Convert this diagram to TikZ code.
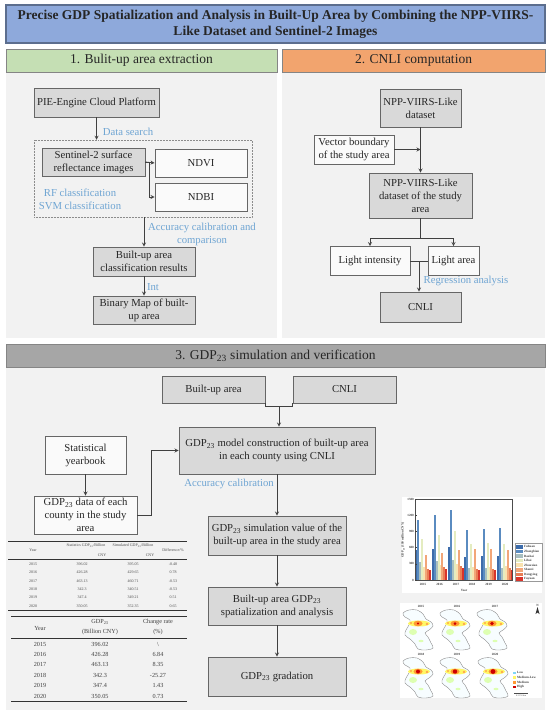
\documentclass[tikz,border=0pt]{standalone}
\usepackage{fontspec}
\setmainfont{Liberation Serif}
\usetikzlibrary{calc}
\definecolor{titleblue}{HTML}{8EA9DB}
\definecolor{headgreen}{HTML}{C5DFB4}
\definecolor{headorange}{HTML}{F2A46E}
\definecolor{headgray}{HTML}{A6A6A6}
\definecolor{panelgray}{HTML}{F2F2F2}
\definecolor{boxgray}{HTML}{D9D9D9}
\definecolor{edgegray}{HTML}{666666}
\definecolor{notecolor}{HTML}{6FA5D3}
\definecolor{barcolor1}{HTML}{3D6CAB}
\definecolor{barcolor2}{HTML}{5A8BC0}
\definecolor{barcolor3}{HTML}{A9BFC0}
\definecolor{barcolor4}{HTML}{E4ECC0}
\definecolor{barcolor5}{HTML}{F8E2B0}
\definecolor{barcolor6}{HTML}{F2A678}
\definecolor{barcolor7}{HTML}{E87C55}
\definecolor{barcolor8}{HTML}{D9342B}
\newcommand{\gdpsub}{GDP\textsubscript{23}}
\tikzset{
	graybox/.style={draw=edgegray,line width=0.9pt,fill=boxgray,inner sep=0pt,align=center,text=black!85,font=\fontsize{10.7}{13}\selectfont},
	whitebox/.style={graybox,fill=white!60!panelgray},
	headbox/.style={draw=edgegray!80,line width=0.9pt,inner sep=0pt,align=center,text=black!85,font=\fontsize{13.5}{16}\selectfont},
	notetext/.style={inner sep=0pt,align=center,text=notecolor,font=\fontsize{10.7}{13}\selectfont},
	flow/.style={->,>=stealth,draw=black!75,line width=0.8pt},
	tablerule/.style={draw=black!80,line width=1pt},
	smallcell/.style={inner sep=0pt,text=black!70,font=\fontsize{4}{4.5}\selectfont},
	tablecell/.style={inner sep=0pt,text=black!75,font=\fontsize{6.2}{7}\selectfont},
	chartfont/.style={inner sep=0pt,text=black!75,font=\fontsize{3.2}{4}\selectfont\bfseries},
	pics/gdpmap/.style={code={
		\filldraw[draw=black!45,line width=0.4pt,fill=cyan!3] plot[smooth cycle,tension=0.6] coordinates {(0,4) (6,1) (14,1) (20,5) (23,10) (28,13) (30,17) (26,21) (22,24) (25,28) (28,34) (30,39) (23,41) (15,40) (12,35) (7,30) (2,26) (3,21) (6,16) (7,11) (2,8)};
		\fill[green!45!yellow!30] (10,23) ellipse (4pt and 3pt);
		\fill[green!45!yellow!30] (18,32) ellipse (2.5pt and 1.2pt);
		\fill[yellow!60] (16,14.5) ellipse (11pt and 3pt);
		\fill[orange!70] (8,14) circle (1.2pt);
		\fill[orange!70] (24,15) circle (1.3pt);
		\fill[orange!80] (15,14.5) ellipse (4.5pt and 2.8pt);
		\fill[red!80!black] (15,14.5) circle (#1);
	}}
}
\begin{document}
\begin{tikzpicture}[x=1pt,y=-1pt]
	\useasboundingbox (0,0) rectangle (550,717);
	\fill[white] (0,0) rectangle (550,717);
	
	% panels
	\fill[panelgray] (6,72) rectangle (277,338);
	\fill[panelgray] (282,72) rectangle (545,338);
	\fill[panelgray] (6,367) rectangle (545,710);
	
	\node[headbox,fill=titleblue,minimum width=539pt,minimum height=38pt,line width=1.2pt,draw=titleblue!65!black,font=\fontsize{13.5}{16}\selectfont\bfseries] (title) at (275.5,24) {Precise GDP Spatialization and Analysis in Built-Up Area by Combining the NPP-VIIRS-\\Like Dataset and Sentinel-2 Images};
	\node[headbox,fill=headgreen,minimum width=271pt,minimum height=23pt] (headone) at (141.5,60.5) {1. Bulit-up area extraction};
	\node[headbox,fill=headorange,minimum width=263pt,minimum height=23pt] (headtwo) at (413.5,60.5) {2. CNLI computation};
	\node[headbox,fill=headgray,minimum width=539pt,minimum height=23pt] (headthree) at (275.5,355.5) {3. \gdpsub{} simulation and verification};
	
	% part 1
	\node[draw=black!45,densely dotted,line width=0.5pt,minimum width=218pt,minimum height=77pt,inner sep=0pt] (rfbox) at (143,178.5) {};
	\node[graybox,minimum width=125pt,minimum height=29pt] (pie) at (96.5,102.5) {PIE-Engine Cloud Platform};
	\node[graybox,minimum width=103pt,minimum height=28pt] (sentinel) at (93.5,162) {Sentinel-2 surface\\reflectance images};
	\node[whitebox,minimum width=92pt,minimum height=28pt] (ndvi) at (201,163) {NDVI};
	\node[whitebox,minimum width=92pt,minimum height=28pt] (ndbi) at (201,197) {NDBI};
	\node[graybox,minimum width=102pt,minimum height=29pt] (results) at (144,261.5) {Built-up area\\classification results};
	\node[graybox,minimum width=102pt,minimum height=28pt] (binary) at (144,310) {Binary Map of built-\\up area};
	\node[notetext] (search) at (128,132) {Data search};
	\node[notetext] (rfsvm) at (80,199.5) {RF classification\\SVM classification};
	\node[notetext] (accuracy) at (202,234.5) {Accuracy calibration and\\comparison};
	\node[notetext] (intlabel) at (153,287) {Int};
	\draw[flow] (pie.south) -- (pie.south |- rfbox.north);
	\draw[flow] (sentinel.east) -- (ndvi.west);
	\draw[flow] (sentinel.east) -- ++(4,0) |- (ndbi.west);
	\draw[flow] (rfbox.south -| results.north) -- (results.north);
	\draw[flow] (results.south) -- (binary.north);
	
	% part 2
	\node[graybox,minimum width=81pt,minimum height=38pt] (npp) at (420.5,108) {NPP-VIIRS-Like\\dataset};
	\node[whitebox,minimum width=80pt,minimum height=29pt] (vector) at (354,149.5) {Vector boundary\\of the study area};
	\node[graybox,minimum width=103pt,minimum height=45pt] (nppstudy) at (420.5,195.5) {NPP-VIIRS-Like\\dataset of the study\\area};
	\node[whitebox,minimum width=80pt,minimum height=29pt] (lightint) at (370,261) {Light intensity};
	\node[whitebox,minimum width=51pt,minimum height=29pt] (lightarea) at (453.5,261) {Light area};
	\node[graybox,minimum width=81pt,minimum height=30pt] (cnli) at (420.5,307) {CNLI};
	\node[notetext] (regression) at (466,281) {Regression analysis};
	\draw[flow] (npp.south) -- (nppstudy.north);
	\draw[flow] (vector.east) -- (vector.east -| npp.south);
	\draw[draw=black!75,line width=0.8pt] (nppstudy.south) -- ++(0,20) coordinate (splitpt);
	\draw[flow] (splitpt) -| (lightint.north);
	\draw[flow] (splitpt) -| (lightarea.north);
	\draw[draw=black!75,line width=0.8pt] (lightint.east) -- (lightarea.west);
	\coordinate (lightmid) at ($(lightint.east)!0.5!(lightarea.west)$);
	\draw[flow] (lightmid) -- (lightmid |- cnli.north);
	
	% part 3
	\node[graybox,minimum width=103pt,minimum height=27pt] (builtup) at (213.5,389.5) {Built-up area};
	\node[graybox,minimum width=103pt,minimum height=27pt] (cnlitwo) at (344.5,389.5) {CNLI};
	\node[graybox,minimum width=196pt,minimum height=47pt] (model) at (277,450.5) {\gdpsub{} model construction of built-up area\\in each county using CNLI};
	\node[whitebox,minimum width=81pt,minimum height=38pt] (yearbook) at (85.5,455) {Statistical\\yearbook};
	\node[whitebox,minimum width=103pt,minimum height=38pt] (countydata) at (85.5,515) {\gdpsub{} data of each\\county in the study\\area};
	\node[graybox,minimum width=138pt,minimum height=39pt] (simvalue) at (277,535.5) {\gdpsub{} simulation value of the\\built-up area  in the study area};
	\node[graybox,minimum width=138pt,minimum height=38pt] (spatial) at (277,606) {Built-up area \gdpsub{}\\spatialization and analysis};
	\node[graybox,minimum width=138pt,minimum height=39pt] (gradation) at (277,676.5) {\gdpsub{} gradation};
	\node[notetext] (calibration) at (229,484) {Accuracy calibration};
	\draw[draw=black!75,line width=0.8pt] (builtup.south east) -- ++(0,3) -| (cnlitwo.south west);
	\coordinate (joinpt) at ($(builtup.south east)!0.5!(cnlitwo.south west)+(0,3)$);
	\draw[flow] (joinpt) -- (joinpt |- model.north);
	\draw[flow] (yearbook.south) -- (countydata.north);
	\draw[flow] (countydata.east) -- ++(14,0) |- (model.west);
	\draw[flow] (model.south) -- (simvalue.north);
	\draw[flow] (simvalue.south) -- (spatial.north);
	\draw[flow] (spatial.south) -- (gradation.north);
	
	% first table
	\draw[tablerule] (8,541.5) -- (187,541.5);
	\draw[tablerule] (8,559) -- (187,559);
	\draw[tablerule] (8,610.5) -- (187,610.5);
	\node[smallcell] (ahead1) at (33,550) {Year};
	\node[smallcell] (ahead2) at (86,546) {Statistics \gdpsub{}/Billion};
	\node[smallcell] (ahead3) at (102,555) {CNY};
	\node[smallcell] (ahead4) at (133,546) {Simulated \gdpsub{}/Billion};
	\node[smallcell] (ahead5) at (150,555) {CNY};
	\node[smallcell] (ahead6) at (173,550.5) {Difference/\%};
	\foreach \yr/\stat/\sim/\diff [count=\i] in {2015/396.02/395.05/-0.48,2016/426.28/429.65/0.78,2017/463.13/460.71/-0.53,2018/342.3/340.51/-0.53,2019/347.4/349.21/0.51,2020/350.05/352.35/0.65}{
		\node[smallcell] (ayr\i) at (33,{564+(\i-1)*8.4}) {\yr};
		\node[smallcell] (astat\i) at (82,{564+(\i-1)*8.4}) {\stat};
		\node[smallcell] (asim\i) at (133,{564+(\i-1)*8.4}) {\sim};
		\node[smallcell] (adiff\i) at (173,{564+(\i-1)*8.4}) {\diff};
	}
	
	% second table
	\draw[tablerule] (11,616.5) -- (187,616.5);
	\draw[tablerule] (11,638) -- (187,638);
	\draw[tablerule] (11,701) -- (187,701);
	\node[tablecell] (bhead1) at (40,628) {Year};
	\node[tablecell,align=center] (bhead2) at (100,627.5) {\gdpsub{}\\[3pt](Billion CNY)};
	\node[tablecell,align=center] (bhead3) at (158,627.5) {Change rate\\[3pt](\%)};
	\foreach \yr/\gdp/\rate [count=\i] in {2015/396.02/\textbackslash,2016/426.28/6.84,2017/463.13/8.35,2018/342.3/-25.27,2019/347.4/1.43,2020/350.05/0.73}{
		\node[tablecell] (byr\i) at (40,{644+(\i-1)*10.4}) {\yr};
		\node[tablecell] (bgdp\i) at (100,{644+(\i-1)*10.4}) {\gdp};
		\node[tablecell] (brate\i) at (158,{644+(\i-1)*10.4}) {\rate};
	}
	
	% bar chart
	\fill[white] (402,497) rectangle (542,593);
	\foreach \yr/\cx/\vals in {2015/423/{560,1105,330,765,250,470,210,190},2016/439.5/{580,1210,350,827,280,500,240,210},2017/456/{620,1290,370,900,300,550,260,228},2018/472/{426,920,220,673,240,574,200,179},2019/488.5/{438,945,230,685,250,574,210,185},2020/505/{438,963,230,673,260,549,220,191}}{
		\foreach \h [count=\i] in \vals
			\fill[barcolor\i] ({\cx+(\i-5)*1.9},580) rectangle ({\cx+(\i-4)*1.9},{580-\h*0.054});
		\node[chartfont] (xtick\yr) at (\cx,584) {\yr};
	}
	\draw[black!70,line width=0.4pt] (415,499) rectangle (512,580);
	\foreach \v [count=\i] in {0,300,600,900,1200,1500}{
		\draw[black!75,line width=0.4pt] (415,{580-(\i-1)*16.2}) -- ++(1.5,0);
		\node[chartfont,anchor=east] (ytick\i) at (414,{580-(\i-1)*16.2}) {\v};
	}
	\node[chartfont,rotate=90] (ylabel) at (403,540) {\gdpsub{} (100 million CNY)};
	\node[chartfont] (xlabel) at (464,590) {Year};
	\draw[black!40,line width=0.3pt,fill=white] (515,543) rectangle (542,581);
	\foreach \place [count=\i] in {Fuhuan,Zhangbian,Baohai,Lihai,Zhouxian,Shanxi,Dongying,Fuyuan}{
		\fill[barcolor\i] (516,{545+(\i-1)*4.6}) rectangle (523,{548.6+(\i-1)*4.6});
		\node[chartfont,anchor=west] (legend\i) at (524,{546.8+(\i-1)*4.6}) {\place};
	}
	
	% maps
	\fill[white] (400,603) rectangle (542,698);
	\pic at (403,609) {gdpmap=1.2pt};
	\pic at (440,609) {gdpmap=1.5pt};
	\pic at (477,609) {gdpmap=1.8pt};
	\pic at (403,657) {gdpmap=2pt};
	\pic at (440,657) {gdpmap=2.2pt};
	\pic at (478,657) {gdpmap=2.4pt};
	\foreach \yr/\mx/\my in {2015/421/606,2016/457/606,2017/495/606,2018/421/654,2019/457/654,2020/495/654}
		\node[chartfont] (map\yr) at (\mx,\my) {\yr};
	\node[chartfont] (northn) at (537.5,605.5) {N};
	\fill[black!80] (537.5,607) -- (539.5,614) -- (537.5,612.5) -- (535.5,614) -- cycle;
	\foreach \name/\col [count=\i] in {Low/cyan!50,Medium-Low/yellow!60,Medium/orange!80,High/red!80!black}{
		\fill[\col] (513,{671.5+(\i-1)*4.8}) rectangle (516,{674+(\i-1)*4.8});
		\node[chartfont,anchor=west] (maplegend\i) at (517,{672.8+(\i-1)*4.8}) {\name};
	}
	\draw[black!70,line width=0.3pt] (514,693) -- (528,693);
	\node[chartfont,font=\fontsize{2.2}{3}\selectfont] (scalebar) at (521,695.5) {0 25 50 km};
\end{tikzpicture}
\end{document}
